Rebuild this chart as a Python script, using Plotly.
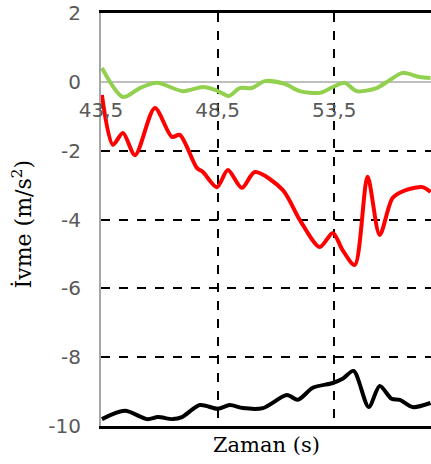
import plotly.graph_objects as go

# Data
green_t = [43.54, 44.44, 45.17, 45.90, 47.01, 47.87, 48.42, 48.98, 49.45, 49.97, 50.52, 51.38,
           52.02, 52.88, 53.44, 53.95, 54.46, 55.32, 55.88, 56.43, 57.16, 57.63]
green_v = [0.40, -0.44, -0.18, -0.03, -0.27, -0.15, -0.24, -0.41, -0.18, -0.18, 0.02, -0.06,
           -0.27, -0.32, -0.15, -0.03, -0.27, -0.18, 0.05, 0.26, 0.14, 0.11]

red_t = [43.54, 44.01, 44.44, 44.96, 45.81, 46.54, 46.88, 47.61, 47.87, 48.47, 48.94, 49.54,
         50.10, 51.29, 52.02, 52.88, 53.44, 53.86, 54.38, 54.93, 55.45, 56.01, 56.60, 57.29, 57.63]
red_v = [-0.38, -1.83, -1.49, -2.13, -0.76, -1.60, -1.54, -2.50, -2.62, -3.06, -2.56, -3.08,
         -2.62, -3.14, -4.01, -4.80, -4.39, -4.89, -5.32, -2.76, -4.45, -3.37, -3.14, -3.06, -3.20]

black_t = [43.54, 44.53, 45.47, 45.94, 46.58, 46.97, 47.74, 48.51, 49.02, 49.58, 50.44, 51.47,
           51.94, 52.58, 53.44, 53.86, 54.33, 54.98, 55.45, 55.96, 56.31, 56.86, 57.63]
black_v = [-9.80, -9.56, -9.80, -9.74, -9.80, -9.74, -9.39, -9.50, -9.39, -9.48, -9.48, -9.10,
           -9.24, -8.89, -8.75, -8.63, -8.40, -9.45, -8.84, -9.21, -9.24, -9.45, -9.33]

x_tickvals = [43.5, 48.5, 53.5]
x_ticktext = ["43,5", "48,5", "53,5"]
y_tickvals = [-10, -8, -6, -4, -2, 0, 2]
y_ticktext = ["-10", "-8", "-6", "-4", "-2", "0", "2"]

fig = go.Figure()
for t, v, c in [(green_t, green_v, "#92D050"), (red_t, red_v, "#FF0000"), (black_t, black_v, "#000000")]:
    fig.add_trace(go.Scatter(x=t, y=v, mode="lines", line=dict(color=c, width=4, shape="spline", smoothing=0.8),
                             showlegend=False, hoverinfo="skip"))

pos0 = 10 / 12  # paper fraction where y=0 lies
tick_font = dict(family="DejaVu Sans", size=20, color="#595959")

fig.update_layout(
    width=431, height=464,
    margin=dict(l=101, r=0, t=13, b=38, autoexpand=False),
    paper_bgcolor="white", plot_bgcolor="white",
    font=dict(family="DejaVu Sans", color="#595959", size=20),
    xaxis=dict(range=[43.5, 57.65], tickvals=x_tickvals, ticktext=x_ticktext,
               anchor="free", position=pos0, automargin=False,
               showline=False, zeroline=False,
               showgrid=True, gridcolor="black", gridwidth=2, griddash="dash",
               ticks="outside", ticklen=10, tickcolor="rgba(0,0,0,0)",
               tickfont=tick_font),
    xaxis2=dict(range=[43.5, 57.65], overlaying="x", anchor="y", side="bottom",
                showline=True, linecolor="black", linewidth=2.5, mirror=True,
                showgrid=False, zeroline=False, showticklabels=False, ticks="",
                automargin=False),
    yaxis=dict(range=[-10, 2], tickvals=y_tickvals, ticktext=y_ticktext, automargin=False,
               showline=True, linecolor="#A6A6A6", linewidth=2,
               zeroline=True, zerolinecolor="#BFBFBF", zerolinewidth=2,
               showgrid=True, gridcolor="black", gridwidth=2, griddash="dash",
               ticks="outside", ticklen=14, tickcolor="rgba(0,0,0,0)",
               ticklabeloverflow="allow",
               tickfont=tick_font),
    annotations=[
        dict(text="İvme (m/s<sup>2</sup>)", xref="paper", yref="paper", x=-0.24, y=0.49,
             xanchor="center", yanchor="middle", textangle=-90, showarrow=False,
             font=dict(family="DejaVu Serif", size=22, color="black")),
        dict(text="Zaman (s)", xref="paper", yref="paper", x=0.5, y=-0.047,
             xanchor="center", yanchor="middle", showarrow=False,
             font=dict(family="DejaVu Serif", size=21, color="black")),
    ],
)
# invisible trace to activate the framing axis
fig.add_trace(go.Scatter(x=[43.5], y=[-10], xaxis="x2", mode="markers", marker=dict(opacity=0),
                         showlegend=False, hoverinfo="skip"))

fig.write_html("out.html", config={"displayModeBar": False},
               post_script="document.body.style.margin='0';document.body.style.overflow='hidden';")
